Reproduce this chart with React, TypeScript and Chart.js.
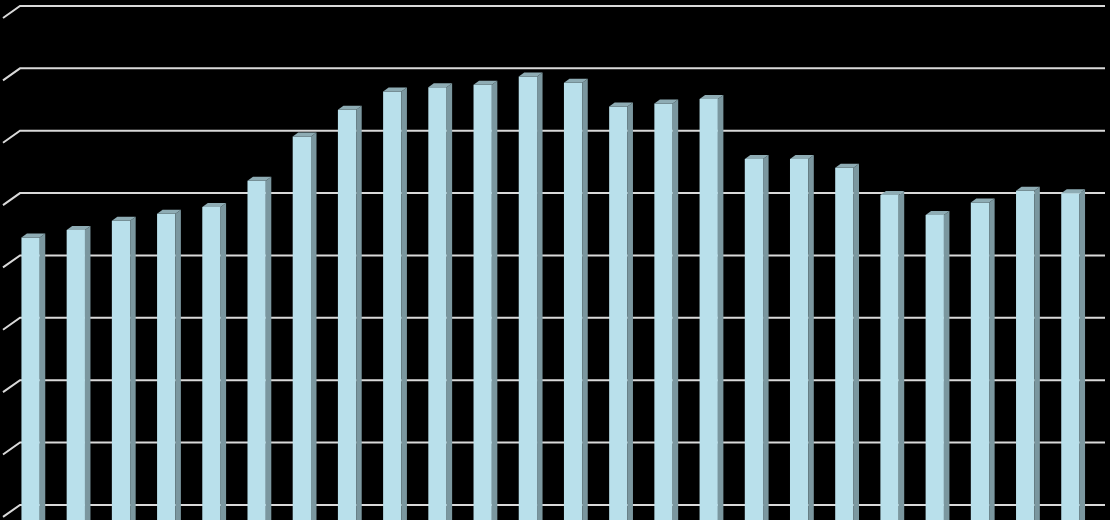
import React, { useEffect, useRef } from "react";
import { Chart, registerables } from "chart.js";

Chart.register(...registerables);

const categories: string[] = [
  "1", "2", "3", "4", "5", "6", "7", "8", "9", "10", "11", "12",
  "13", "14", "15", "16", "17", "18", "19", "20", "21", "22", "23", "24",
];

const seriesValues: number[] = [
  44.8, 46.0, 47.5, 48.6, 49.7, 53.9, 61.0, 65.3, 68.2, 68.9, 69.3, 70.6,
  69.6, 65.8, 66.3, 67.0, 57.4, 57.4, 56.0, 51.6, 48.4, 50.4, 52.3, 51.9,
];

const gridValues: number[] = [0, 10, 20, 30, 40, 50, 60, 70, 80];

const FRONT = "#b9e0eb";
const TOP = "#8eacb4";
const SIDE = "#7b979f";
const GRID = "#d9d9d9";
const DEPTH_X = 17;
const DEPTH_Y = 12;
const BAR_DX = 5.5;
const BAR_DY = 4;

const threeD = {
  id: "threeD",
  beforeDatasetsDraw(chart: any) {
    const ctx = chart.ctx;
    const ys = chart.scales.y;
    const area = chart.chartArea;
    ctx.save();
    ctx.strokeStyle = GRID;
    ctx.lineWidth = 2;
    gridValues.forEach((v) => {
      const yf = ys.getPixelForValue(v);
      ctx.beginPath();
      ctx.moveTo(area.left - 5, yf);
      ctx.lineTo(area.left - 5 + DEPTH_X, yf - DEPTH_Y);
      ctx.lineTo(chart.width - 5, yf - DEPTH_Y);
      ctx.stroke();
    });
    ctx.restore();
  },
  afterDatasetsDraw(chart: any) {
    const ctx = chart.ctx;
    const meta = chart.getDatasetMeta(0);
    ctx.save();
    meta.data.forEach((bar: any) => {
      const p = bar.getProps(["x", "y", "base", "width"], true);
      const left = p.x - p.width / 2;
      const right = p.x + p.width / 2;
      const top = p.y;
      const base = p.base;
      ctx.fillStyle = SIDE;
      ctx.beginPath();
      ctx.moveTo(right, top);
      ctx.lineTo(right + BAR_DX, top - BAR_DY);
      ctx.lineTo(right + BAR_DX, base);
      ctx.lineTo(right, base);
      ctx.closePath();
      ctx.fill();
      ctx.fillStyle = TOP;
      ctx.beginPath();
      ctx.moveTo(left, top);
      ctx.lineTo(right, top);
      ctx.lineTo(right + BAR_DX, top - BAR_DY);
      ctx.lineTo(left + BAR_DX, top - BAR_DY);
      ctx.closePath();
      ctx.fill();
    });
    ctx.restore();
  },
};

export default function App() {
  const ref = useRef<HTMLCanvasElement | null>(null);

  useEffect(() => {
    if (!ref.current) return;
    const chart = new Chart(ref.current, {
      type: "bar",
      data: {
        labels: categories,
        datasets: [
          {
            data: seriesValues,
            backgroundColor: FRONT,
            borderWidth: 0,
            barPercentage: 0.405,
            categoryPercentage: 1,
            base: -0.5,
          },
        ],
      },
      options: {
        responsive: false,
        animation: false,
        events: [],
        layout: { padding: { left: 8, right: 17, top: 18, bottom: 0 } },
        plugins: {
          legend: { display: false },
          tooltip: { enabled: false },
          title: { display: false },
        },
        scales: {
          x: { display: false, grid: { display: false } },
          y: {
            display: false,
            min: -0.5,
            max: 80,
            ticks: { stepSize: 10 },
            grid: { display: false },
          },
        },
      },
      plugins: [threeD],
    });
    return () => chart.destroy();
  }, []);

  return (
    <div
      style={{
        position: "fixed",
        left: 0,
        top: 0,
        width: 1110,
        height: 520,
        background: "#000",
      }}
    >
      <canvas ref={ref} width={1110} height={520} style={{ display: "block" }} />
    </div>
  );
}
